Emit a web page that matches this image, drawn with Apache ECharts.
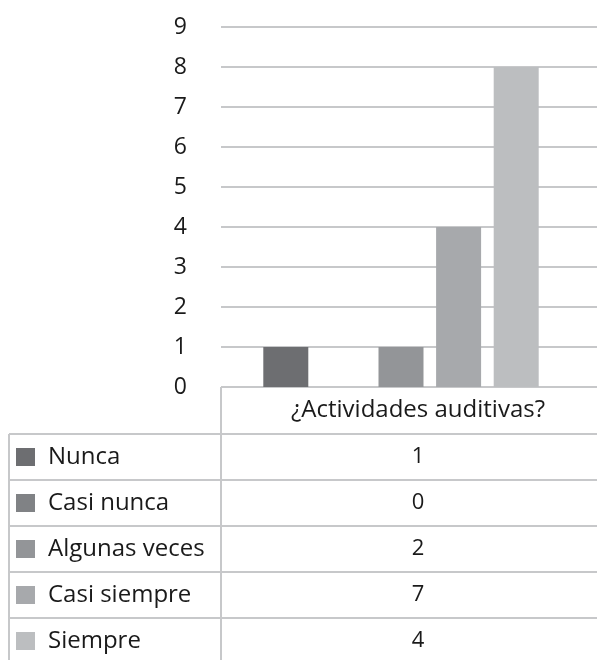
<!DOCTYPE html>
<html>
<head>
<meta charset="utf-8">
<script src="https://cdn.jsdelivr.net/npm/echarts@6/dist/echarts.min.js"></script>
<style>
  html, body { margin: 0; padding: 0; background: #fff; }
  #chart { width: 597px; height: 660px; }
</style>
</head>
<body>
<div id="chart"></div>
<script>
// datos
var categoria = ["¿Actividades auditivas?"];
var series_names = ["Nunca", "Casi nunca", "Algunas veces", "Casi siempre", "Siempre"];
var bar_values = [1, 0, 1, 4, 8];     // alturas de las barras dibujadas
var table_values = [1, 0, 2, 7, 4];   // numeros de la tabla de datos
var y_min = 0, y_max = 9, y_step = 1;

var colors = ["#6d6e71", "#808285", "#939598", "#a7a9ac", "#bcbec0"];
var font = "Open Sans";
var lineColor = "#c7c8ca";

var myChart = echarts.init(document.getElementById("chart"));

// tabla de datos debajo del eje
var tableLeft = 9, colX = 221, tableTop = 387, headerH = 47, rowH = 46;
var graphic = [];
graphic.push({ type: "line", shape: { x1: colX, y1: tableTop, x2: colX, y2: 660 }, style: { stroke: lineColor, lineWidth: 2 } });
graphic.push({ type: "line", shape: { x1: tableLeft, y1: tableTop + headerH, x2: tableLeft, y2: 660 }, style: { stroke: lineColor, lineWidth: 2 } });
graphic.push({
  type: "text", x: 418, y: tableTop + headerH / 2,
  style: { text: categoria[0], font: "24px '" + font + "'", fill: "#1a1a1a", align: "center", verticalAlign: "middle" }
});
series_names.forEach(function (name, i) {
  var top = tableTop + headerH + i * rowH;
  graphic.push({ type: "line", shape: { x1: tableLeft, y1: top, x2: 597, y2: top }, style: { stroke: lineColor, lineWidth: 2 } });
  graphic.push({ type: "rect", shape: { x: 16, y: top + rowH / 2 - 9, width: 19, height: 18 }, style: { fill: colors[i] } });
  graphic.push({
    type: "text", x: 48, y: top + rowH / 2,
    style: { text: name, font: "24px '" + font + "'", fill: "#1a1a1a", align: "left", verticalAlign: "middle" }
  });
  graphic.push({
    type: "text", x: 418, y: top + rowH / 2,
    style: { text: String(table_values[i]), font: "22px '" + font + "'", fill: "#1a1a1a", align: "center", verticalAlign: "middle" }
  });
});

var option = {
  backgroundColor: "#fff",
  animation: false,
  grid: [
    { left: 221, right: 0, top: 27, bottom: 273 },   // lineas de cuadricula
    { left: 221, right: 16, top: 27, bottom: 273 }   // barras
  ],
  xAxis: [
    { type: "category", gridIndex: 0, data: categoria, show: false },
    { type: "category", gridIndex: 1, data: categoria, show: false }
  ],
  yAxis: [
    {
      type: "value", gridIndex: 0, min: y_min, max: y_max, interval: y_step,
      axisLine: { show: false }, axisTick: { show: false },
      axisLabel: { margin: 34, fontSize: 23, fontFamily: font, color: "#1a1a1a" },
      splitLine: { lineStyle: { color: lineColor, width: 2 } }
    },
    {
      type: "value", gridIndex: 1, min: y_min, max: y_max, interval: y_step,
      show: false, splitLine: { show: false }
    }
  ],
  series: series_names.map(function (name, i) {
    return {
      name: name,
      type: "bar",
      xAxisIndex: 1,
      yAxisIndex: 1,
      barWidth: 45,
      barGap: "28%",
      itemStyle: { color: colors[i] },
      data: [bar_values[i]]
    };
  }),
  graphic: graphic
};

myChart.setOption(option);
</script>
</body>
</html>
